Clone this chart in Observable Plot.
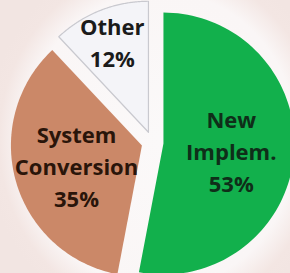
<!DOCTYPE html>
<html>
<head>
<meta charset="utf-8">
<script src="https://cdn.jsdelivr.net/npm/d3@7"></script>
<script src="https://cdn.jsdelivr.net/npm/@observablehq/plot@0.6"></script>
<style>
  html, body { margin: 0; padding: 0; }
  body {
    width: 290px; height: 273px; overflow: hidden;
    background: radial-gradient(ellipse 175px 190px at 160px 140px, #fbf9f9 0%, #faf6f6 78%, #f3e6e3 92%, #f2e5e2 100%);
  }
  #chart svg { display: block; background: transparent; }
</style>
</head>
<body>
<div id="chart"></div>
<script>
// ---- data ----
const categories = ["New Implem.", "System Conversion", "Other"];
const shares = [53, 35, 12];

// ---- styles ----
const fills = ["#12b04c", "#cb8868", "#f4f4f8"];
const strokes = ["none", "none", "#c9c9cf"];
const textColors = ["#0f2e19", "#2a150a", "#1b1b1b"];

const rows = categories.map((name, i) => ({name, share: shares[i], i}));
const arcs = d3.pie().sort(null).value(d => d.share)(rows);

const explode = 0.084;
const steps = 90;
const outline = [];
const labels = [];
for (const a of arcs) {
  const mid = (a.startAngle + a.endAngle) / 2;
  const ox = explode * Math.sin(mid), oy = explode * Math.cos(mid);
  const name = a.data.name;
  outline.push({name, x: ox, y: oy});
  for (let s = 0; s <= steps; s++) {
    const t = a.startAngle + (a.endAngle - a.startAngle) * s / steps;
    outline.push({name, x: ox + Math.sin(t), y: oy + Math.cos(t)});
  }
  outline.push({name, x: ox, y: oy});
  const k = a.data.share < 20 ? 0.75 : 0.52;
  labels.push({
    name,
    i: a.data.i,
    x: ox + k * Math.sin(mid),
    y: oy + k * Math.cos(mid),
    text: name.split(" ").join("\n") + "\n" + a.data.share + "%"
  });
}

const chart = Plot.plot({
  width: 290,
  height: 273,
  margin: 0,
  x: {domain: [-152 / 131, 138 / 131], range: [0, 290], axis: null},
  y: {domain: [-1, 142 / 131], range: [273, 0], axis: null},
  color: {domain: categories, range: fills},
  style: {background: "transparent"},
  marks: [
    Plot.line(outline, {x: "x", y: "y", z: "name", fill: "name", stroke: "none", curve: "linear"}),
    Plot.line(outline.filter(d => strokes[categories.indexOf(d.name)] !== "none"),
      {x: "x", y: "y", z: "name", stroke: d => strokes[categories.indexOf(d.name)], strokeWidth: 1.2, curve: "linear"}),
    Plot.text(labels, {
      x: "x", y: "y", text: "text",
      fill: d => textColors[d.i],
      fontSize: 22, fontWeight: "bold", fontFamily: "Open Sans",
      lineHeight: 1.45, lineAnchor: "middle", textAnchor: "middle"
    })
  ]
});
document.getElementById("chart").append(chart);
</script>
</body>
</html>
